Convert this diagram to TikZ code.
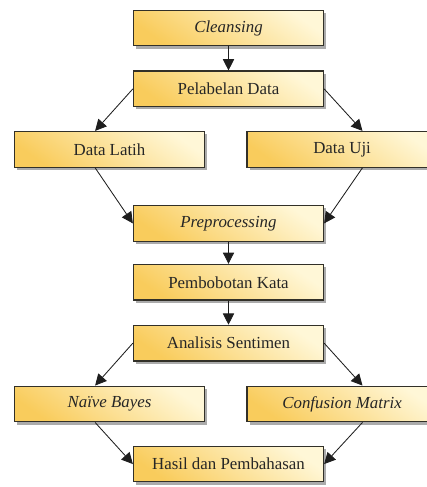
\documentclass[tikz,border=0pt]{standalone}
\usepackage{fontspec}
\setmainfont{Liberation Serif}
\usepackage{xcolor}
\usepackage{tikz}
\usetikzlibrary{arrows.meta, positioning, shadows}
\definecolor{boxdark}{RGB}{249,204,92}
\definecolor{boxlight}{RGB}{255,247,215}
\definecolor{boxline}{RGB}{50,48,40}
\definecolor{mydark}{RGB}{30,30,30}
\tikzset{
  stepbox/.style={rectangle, draw=boxline, line width=0.9pt,
    top color=boxlight, bottom color=boxdark, shading angle=-35,
    minimum width=4.75cm, minimum height=0.89cm, inner sep=0pt,
    font=\fontsize{12}{14}\selectfont, text=black!85,
    drop shadow={shadow xshift=2pt, shadow yshift=-2pt, fill=black!60, opacity=0.55}},
  arrow/.style={-{Triangle[length=8pt, width=8pt]}, line width=0.6pt, color=mydark}
}

\begin{document}
\begin{tikzpicture}[node distance=0.6cm]
  \useasboundingbox (0,0) rectangle (10.675,-12.175);
  \clip (0,0) rectangle (10.675,-12.175);

  % Nodes
  \node[stepbox] (cleansing) at (5.7125,-0.7) {\textit{Cleansing}};
  \node[stepbox, below=0.6cm of cleansing] (labeling) {Pelabelan Data};
  \node[stepbox, below=0.59cm of labeling, xshift=-2.975cm] (latih) {Data Latih};
  \node[stepbox, below=0.59cm of labeling, xshift=2.84cm] (uji) {Data Uji};
  \node[stepbox, below=0.93cm of latih, xshift=2.975cm] (prepro) {\textit{Preprocessing}};
  \node[stepbox, below=0.55cm of prepro] (bobot) {Pembobotan Kata};
  \node[stepbox, below=0.6cm of bobot] (analisis) {Analisis Sentimen};
  \node[stepbox, below=0.6cm of analisis, xshift=-2.975cm] (bayes) {\textit{Naïve Bayes}};
  \node[stepbox, below=0.6cm of analisis, xshift=2.84cm] (confusion) {\textit{Confusion Matrix}};
  \node[stepbox, below=0.58cm of bayes, xshift=2.975cm] (hasil) {Hasil dan Pembahasan};

  % Paths
  \draw[arrow] (cleansing) -- (labeling);
  \draw[arrow] (labeling.west) -- ([xshift=-0.36cm]latih.north);
  \draw[arrow] (labeling.east) -- ([xshift=0.51cm]uji.north);
  \draw[arrow] ([xshift=-0.36cm]latih.south) -- (prepro.west);
  \draw[arrow] ([xshift=0.51cm]uji.south) -- (prepro.east);
  \draw[arrow] (prepro) -- (bobot);
  \draw[arrow] (bobot) -- (analisis);
  \draw[arrow] (analisis.west) -- ([xshift=-0.36cm]bayes.north);
  \draw[arrow] (analisis.east) -- ([xshift=0.51cm]confusion.north);
  \draw[arrow] ([xshift=-0.36cm]bayes.south) -- (hasil.west);
  \draw[arrow] ([xshift=0.51cm]confusion.south) -- (hasil.east);
\end{tikzpicture}
\end{document}
